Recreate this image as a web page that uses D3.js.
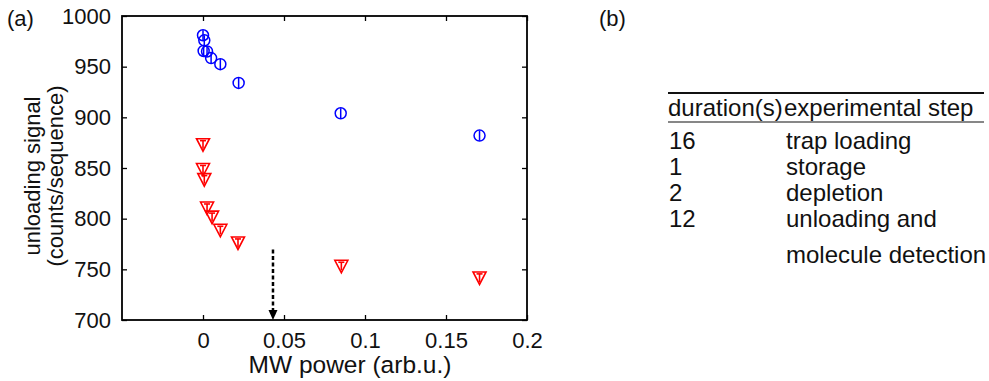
<!DOCTYPE html>
<html><head><meta charset="utf-8">
<script src="https://cdn.jsdelivr.net/npm/d3@7"></script>
<style>
html,body{margin:0;padding:0;background:#fff;}
svg{display:block;font-family:"Liberation Sans",Arial,sans-serif;}
</style></head>
<body><svg id="c" width="989" height="381"></svg>
<script>
// ---- data ----
const powerBlue = [0, 0.0008, 0.0004, 0.0025, 0.005, 0.0107, 0.022, 0.085, 0.1707];
const signalBlue = [981, 976, 965.5, 965, 958.5, 952.5, 934, 904, 882];
const errBlue = [5, 5, 5, 5, 5, 5, 5, 5, 5];
const powerRed = [0, 0, 0.0008, 0.0025, 0.0056, 0.0107, 0.0216, 0.0854, 0.1707];
const signalRed = [873, 848.5, 838.5, 810.5, 801.5, 788.5, 776, 753, 741.5];
const errRed = [4, 4, 4, 4, 4, 4, 4, 4, 4];
const xTicks = [0, 0.05, 0.1, 0.15, 0.2];
const xTickLabels = ["0", "0.05", "0.1", "0.15", "0.2"];
const yTicks = [700, 750, 800, 850, 900, 950, 1000];
const arrowX = 0.0432, arrowFrom = 769.5, arrowTo = 700;
const tableHeader = ["duration(s)", "experimental step"];
const tableDurations = ["16", "1", "2", "12", ""];
const tableSteps = ["trap loading", "storage", "depletion", "unloading and", "molecule detection"];

const svg = d3.select("#c");
const L = 122, R = 527, T = 16, B = 320;
const x = d3.scaleLinear().domain([-0.05, 0.2]).range([L, R]);
const y = d3.scaleLinear().domain([700, 1000]).range([B, T]);
const fs = 22;

// axes (ticks inside, box)
const tickLen = 5;
const gx = svg.append("g").attr("transform", `translate(0,${B})`)
  .call(d3.axisBottom(x).tickValues(xTicks).tickSize(-tickLen).tickPadding(12)
    .tickFormat((d, i) => xTickLabels[i]));
const gxTop = svg.append("g").attr("transform", `translate(0,${T})`)
  .call(d3.axisTop(x).tickValues(xTicks).tickSize(-tickLen).tickFormat(""));
const gy = svg.append("g").attr("transform", `translate(${L},0)`)
  .call(d3.axisLeft(y).tickValues(yTicks).tickSize(-tickLen).tickPadding(11).tickFormat(d3.format("d")));
const gyR = svg.append("g").attr("transform", `translate(${R},0)`)
  .call(d3.axisRight(y).tickValues(yTicks).tickSize(-tickLen).tickFormat(""));
[gx, gxTop, gy, gyR].forEach(g => {
  g.select(".domain").remove();
  g.selectAll("line").attr("stroke", "#000").attr("stroke-width", 1.3);
  g.selectAll("text").attr("fill", "#111").style("font-size", fs + "px")
    .style("font-family", '"Liberation Sans",Arial,sans-serif');
});
svg.append("rect").attr("x", L).attr("y", T).attr("width", R - L).attr("height", B - T)
  .attr("fill", "none").attr("stroke", "#000").attr("stroke-width", 1.8);

// axis labels
svg.append("text").attr("x", 350).attr("y", 373).attr("text-anchor", "middle")
  .style("font-size", "24.5px").attr("fill", "#111").text("MW power (arb.u.)");
const yl = svg.append("text").attr("transform", `translate(0,${(T + B) / 2 + 8}) rotate(-90)`)
  .attr("text-anchor", "middle").style("font-size", "22px").attr("fill", "#111");
yl.append("tspan").attr("x", 0).attr("y", 40).text("unloading signal");
yl.append("tspan").attr("x", 0).attr("y", 63).text("(counts/sequence)");

// panel labels
svg.append("text").attr("x", 7).attr("y", 26).style("font-size", "22px").attr("fill", "#111").text("(a)");
svg.append("text").attr("x", 599).attr("y", 26).style("font-size", "22px").attr("fill", "#111").text("(b)");

// blue circles with error bars
const blue = svg.append("g").attr("stroke", "#0000ff").attr("fill", "none").attr("stroke-width", 1.5);
powerBlue.forEach((p, i) => {
  const cx = x(p), cy = y(signalBlue[i]);
  blue.append("line").attr("x1", cx).attr("x2", cx).attr("y1", y(signalBlue[i] + errBlue[i])).attr("y2", y(signalBlue[i] - errBlue[i]));
  blue.append("circle").attr("cx", cx).attr("cy", cy).attr("r", 5.5);
});
// red triangles with error bars
const red = svg.append("g").attr("stroke", "#ff0000").attr("fill", "none").attr("stroke-width", 1.6);
powerRed.forEach((p, i) => {
  const cx = x(p), cy = y(signalRed[i]);
  const y1 = y(signalRed[i] + errRed[i]), y2 = y(signalRed[i] - errRed[i]);
  red.append("line").attr("x1", cx).attr("x2", cx).attr("y1", y1).attr("y2", y2);
  red.append("line").attr("x1", cx - 3).attr("x2", cx + 3).attr("y1", y1).attr("y2", y1);
  red.append("path").attr("d", `M${cx - 6.5},${cy - 6}L${cx + 6.5},${cy - 6}L${cx},${cy + 6.5}Z`)
    .attr("stroke-linejoin", "miter");
});

// dashed arrow
const ax = x(arrowX);
svg.append("line").attr("x1", ax).attr("x2", ax).attr("y1", y(arrowFrom)).attr("y2", y(arrowTo) - 9)
  .attr("stroke", "#000").attr("stroke-width", 2.5).attr("stroke-dasharray", "4,2.5");
svg.append("path").attr("d", `M${ax - 4.5},${y(arrowTo) - 10}L${ax + 4.5},${y(arrowTo) - 10}L${ax},${y(arrowTo)}Z`)
  .attr("fill", "#000");

// table (b)
const tx0 = 668, tx1 = 984, tcol2 = 785;
const tbl = svg.append("g").style("font-size", "24px").attr("fill", "#111");
svg.append("line").attr("x1", tx0).attr("x2", tx1).attr("y1", 93).attr("y2", 93).attr("stroke", "#111").attr("stroke-width", 2.2);
svg.append("line").attr("x1", tx0).attr("x2", tx1).attr("y1", 122).attr("y2", 122).attr("stroke", "#111").attr("stroke-width", 1.2);
tbl.append("text").attr("x", 668).attr("y", 116).text(tableHeader[0]);
tbl.append("text").attr("x", tcol2 - 1).attr("y", 116).text(tableHeader[1]);
const rowY = [149, 175, 201, 227, 263];
tableSteps.forEach((s, i) => {
  tbl.append("text").attr("x", 669).attr("y", rowY[i]).text(tableDurations[i]);
  tbl.append("text").attr("x", tcol2 + 1).attr("y", rowY[i]).text(s);
});
</script></body></html>
